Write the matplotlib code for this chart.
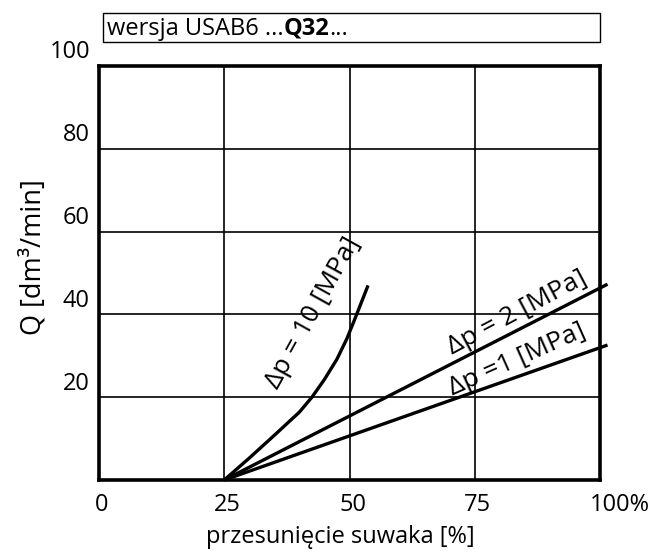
import matplotlib
matplotlib.use("Agg")
import matplotlib.pyplot as plt
from matplotlib.patches import Rectangle
import numpy as np

plt.rcParams['font.family'] = ['Open Sans', 'DejaVu Sans']

# data
x_ticks = [0, 25, 50, 75, 100]
x_tick_labels = ["0", "25", "50", "75", "100%"]
y_ticks = [20, 40, 60, 80, 100]
y_tick_labels = ["20", "40", "60", "80", "100"]

dp10_x = [25, 30, 35, 40, 42.5, 45, 47.5, 49.5, 51.3, 52.5, 53.7]
dp10_y = [0, 5.3, 10.8, 16.4, 20, 24.3, 29.2, 34.2, 39.6, 43.3, 47]
dp2_x = [25, 101.5]
dp2_y = [0, 47.3]
dp1_x = [25, 101.5]
dp1_y = [0, 32.6]

W, H = 653, 554
fig = plt.figure(figsize=(W / 100, H / 100), dpi=100)
ax = fig.add_axes([99 / W, (H - 480) / H, 501 / W, 414 / H])
ax.set_xlim(0, 100)
ax.set_ylim(0, 100)

for v in [25, 50, 75]:
    ax.axvline(v, color='black', lw=1.2, zorder=1)
for v in [20, 40, 60, 80]:
    ax.axhline(v, color='black', lw=1.2, zorder=1)

ax.plot(dp10_x, dp10_y, color='black', lw=2.4, zorder=3, solid_capstyle='butt',
        solid_joinstyle='round')
ax.plot(dp2_x, dp2_y, color='black', lw=2.4, zorder=3, clip_on=False, solid_capstyle='butt')
ax.plot(dp1_x, dp1_y, color='black', lw=2.4, zorder=3, clip_on=False, solid_capstyle='butt')

for s in ax.spines.values():
    s.set_linewidth(2.6)
    s.set_zorder(4)
ax.set_xticks([])
ax.set_yticks([])

fs = 17
for v, lab in zip(x_ticks, x_tick_labels):
    if lab.endswith('%'):
        ax.text(v - 2.0, -3.2, lab, ha='left', va='top', fontsize=fs)
    else:
        ax.text(v + 0.6, -3.2, lab, ha='center', va='top', fontsize=fs)
for v, lab in zip(y_ticks, y_tick_labels):
    ax.text(-1.8, v + 0.4, lab, ha='right', va='bottom', fontsize=fs)

fig.text(340.5 / W, 1 - 537 / H, "przesunięcie suwaka [%]", ha='center', va='center',
         fontsize=17, fontweight='medium')
fig.text(34 / W, 1 - 257 / H, "Q [dm³/min]", ha='center', va='center',
         rotation=90, fontsize=19.5, fontweight='medium')

afs = 19
ax.text(42.7, 40.3, "Δp = 10 [MPa]", rotation=61, ha='center', va='center',
        fontsize=afs, rotation_mode='anchor')
ax.text(83.5, 40.3, "Δp = 2 [MPa]", rotation=28, ha='center', va='center',
        fontsize=afs, rotation_mode='anchor')
ax.text(83.5, 29.0, "Δp =1 [MPa]", rotation=24, ha='center', va='center',
        fontsize=afs, rotation_mode='anchor')

# title box
fig.patches.append(Rectangle((103 / W, 1 - 42 / H), 497 / W, 29 / H, transform=fig.transFigure,
                             fill=False, edgecolor='black', lw=1.0))
fig.canvas.draw()
r = fig.canvas.get_renderer()
tfs = 17
t1 = fig.text(107 / W, 1 - 29 / H, "wersja USAB6 ...", ha='left', va='center', fontsize=tfs)
bb = t1.get_window_extent(r)
t2 = fig.text(bb.x1 / W, 1 - 29 / H, "Q32", ha='left', va='center', fontsize=tfs, fontweight='bold')
bb2 = t2.get_window_extent(r)
fig.text(bb2.x1 / W, 1 - 29 / H, "...", ha='left', va='center', fontsize=tfs)

fig.savefig("out.png", dpi=100)
